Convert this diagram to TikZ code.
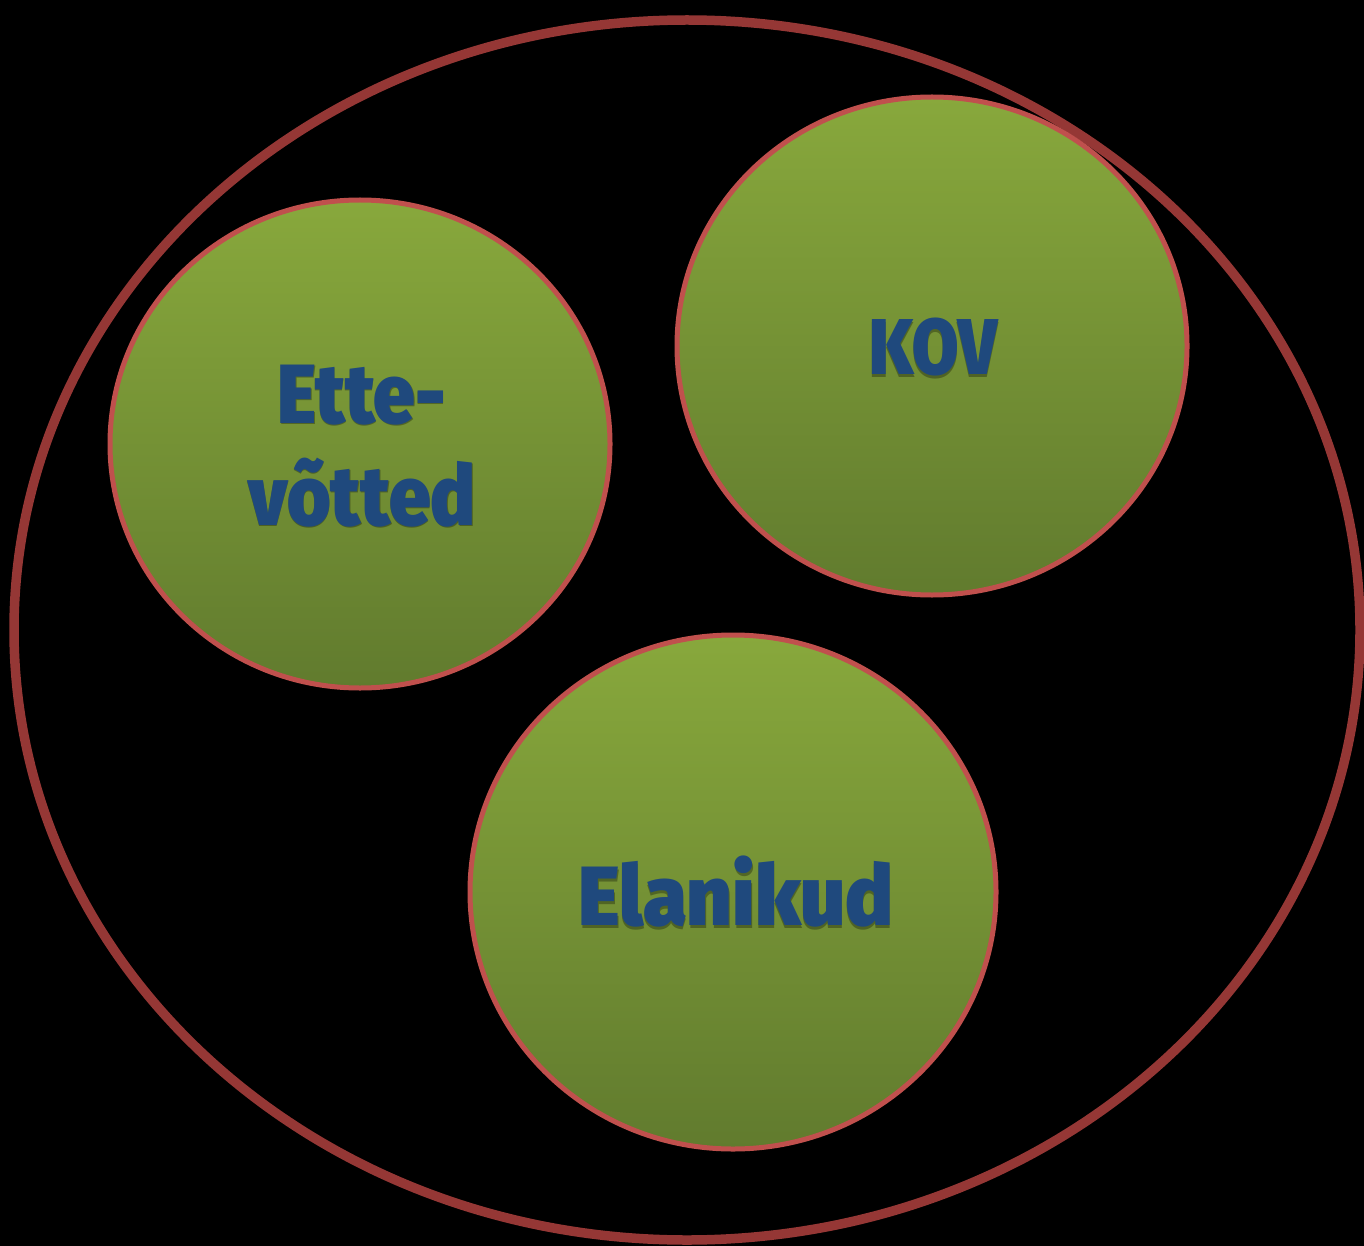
\documentclass[tikz,border=0pt]{standalone}
\usepackage{fontspec}
\usetikzlibrary{shapes.geometric,calc}
\newfontfamily\lab{Fira Sans Black}
\definecolor{bigred}{HTML}{953735}
\definecolor{circred}{HTML}{C0504D}
\definecolor{gtop}{HTML}{88A83C}
\definecolor{gbot}{HTML}{617B2E}
\definecolor{txtblue}{HTML}{1F497D}
\begin{document}
\begin{tikzpicture}[x=1pt,y=-1pt]
\tikzset{
  ball/.style={ellipse, draw=circred, line width=5pt, top color=gtop, bottom color=gbot, inner sep=0pt},
  lbl/.style={font=\lab\fontsize{84}{102}\selectfont, text=txtblue, align=center, inner sep=0pt},
  shd/.style={text=black, opacity=0.3}
}
\fill[black] (0,0) rectangle (1364,1246);
\useasboundingbox (0,0) rectangle (1364,1246);
\node[ellipse, draw=bigred, line width=9.5pt, minimum width=1346pt, minimum height=1220pt, inner sep=0pt] (outer) at (687,630) {};
\node[ball, minimum width=500pt, minimum height=488pt] (ette) at (360,444) {};
\node[ball, minimum width=510pt, minimum height=498pt] (kov) at (932,346) {};
\node[ball, minimum width=526pt, minimum height=514pt] (elan) at (733,892) {};
\node[lbl, xscale=0.89, shd] at ($(ette)+(2.5,3)$) {Ette-\\võtted};
\node[lbl, xscale=0.89] (ettet) at ($(ette)+(2,2)$) {Ette-\\võtted};
\node[lbl, xscale=0.85, shd, font=\lab\fontsize{79}{95}\selectfont] at ($(kov)+(1.5,4)$) {KOV};
\node[lbl, xscale=0.85, font=\lab\fontsize{79}{95}\selectfont] (kovt) at ($(kov)+(1,1)$) {KOV};
\node[lbl, xscale=0.95, shd] at ($(elan)+(3.5,3)$) {Elanikud};
\node[lbl, xscale=0.95] (elant) at ($(elan)+(3,0)$) {Elanikud};
\end{tikzpicture}
\end{document}
